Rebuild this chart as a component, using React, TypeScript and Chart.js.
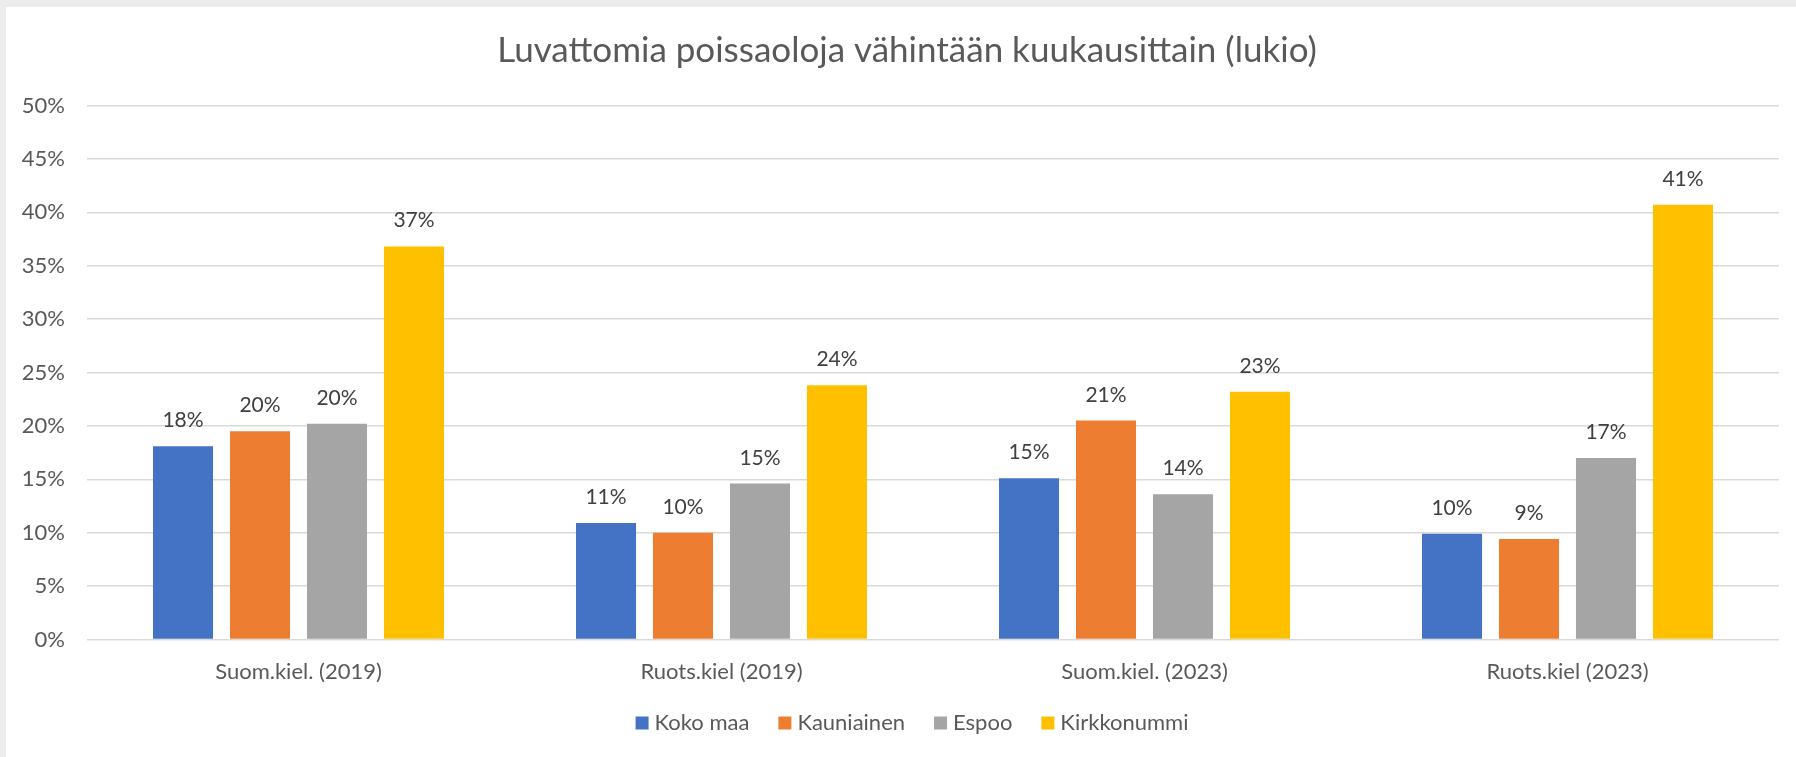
import React, { useEffect, useRef } from "react";
import { Chart, registerables } from "chart.js";

Chart.register(...registerables);

const TITLE = "Luvattomia poissaoloja vähintään kuukausittain (lukio)";
const categories = ["Suom.kiel. (2019)", "Ruots.kiel (2019)", "Suom.kiel. (2023)", "Ruots.kiel (2023)"];
const seriesNames = ["Koko maa", "Kauniainen", "Espoo", "Kirkkonummi"];
const kokoMaa = [18.1, 10.9, 15.1, 9.9];
const kauniainen = [19.5, 10.0, 20.5, 9.4];
const espoo = [20.2, 14.6, 13.6, 17.0];
const kirkkonummi = [36.8, 23.8, 23.2, 40.7];
const yMin = 0;
const yMax = 50;
const yStep = 5;
const colors = ["#4472C4", "#ED7D31", "#A5A5A5", "#FFC000"];

const FONT = "Lato, 'Noto Sans', sans-serif";

const overlay = {
  id: "overlay",
  afterDatasetsDraw(chart: any) {
    const ctx = chart.ctx as CanvasRenderingContext2D;
    ctx.save();
    // data labels
    ctx.font = `21px ${FONT}`;
    ctx.fillStyle = "#404040";
    ctx.textAlign = "center";
    ctx.textBaseline = "alphabetic";
    chart.data.datasets.forEach((ds: any, i: number) => {
      const meta = chart.getDatasetMeta(i);
      meta.data.forEach((el: any, j: number) => {
        const v = ds.data[j] as number;
        ctx.fillText(`${Math.round(v)}%`, el.x, el.y - 19);
      });
    });
    // title
    ctx.font = `35px ${FONT}`;
    ctx.fillStyle = "#595959";
    ctx.fillText(TITLE, 901, 54.7);
    // legend
    ctx.font = `22px ${FONT}`;
    ctx.textBaseline = "middle";
    const box = 13;
    const gapText = 6;
    const gapItem = 29;
    const widths = chart.data.datasets.map((d: any) => ctx.measureText(d.label).width);
    let total = 0;
    widths.forEach((w: number, i: number) => {
      total += box + gapText + w + (i < widths.length - 1 ? gapItem : 0);
    });
    let x = 906 - total / 2;
    const yc = 716;
    ctx.textAlign = "left";
    chart.data.datasets.forEach((d: any, i: number) => {
      ctx.fillStyle = d.backgroundColor;
      ctx.fillRect(x, yc - box / 2, box, box);
      x += box + gapText;
      ctx.fillStyle = "#595959";
      ctx.fillText(d.label, x, yc);
      x += widths[i] + gapItem;
    });
    ctx.restore();
  },
};

export default function App() {
  const ref = useRef<HTMLCanvasElement>(null);
  useEffect(() => {
    if (!ref.current) return;
    const series = [kokoMaa, kauniainen, espoo, kirkkonummi];
    const chart = new Chart(ref.current, {
      type: "bar",
      data: {
        labels: categories,
        datasets: series.map((d, i) => ({
          label: seriesNames[i],
          data: d,
          backgroundColor: colors[i],
          borderWidth: 0,
          categoryPercentage: 0.728,
          barPercentage: 0.78,
        })),
      },
      options: {
        responsive: false,
        animation: false,
        devicePixelRatio: 1,
        layout: { padding: { top: 98.5, right: 17, left: 0, bottom: 0 } },
        plugins: {
          legend: { display: false },
          title: { display: false },
          tooltip: { enabled: false },
        },
        scales: {
          x: {
            grid: { display: false },
            border: { display: false },
            ticks: { font: { family: FONT, size: 22 }, color: "#595959", padding: 11 },
            afterFit(s: any) {
              s.height = 117.5;
            },
          },
          y: {
            min: yMin,
            max: yMax,
            ticks: {
              stepSize: yStep,
              callback: (v: any) => `${v}%`,
              font: { family: FONT, size: 22 },
              color: "#595959",
              padding: 22,
            },
            grid: { color: "#D9D9D9", lineWidth: 1.5, drawTicks: false },
            border: { display: false },
            afterFit(s: any) {
              s.width = 81;
            },
          },
        },
      },
      plugins: [overlay],
    });
    return () => chart.destroy();
  }, []);
  return (
    <div style={{ position: "absolute", left: 0, top: 0, width: 1796, height: 757, background: "#ECECEC" }}>
      <div style={{ position: "absolute", left: 6, top: 7, width: 1790, height: 750, background: "#FFFFFF" }}>
        <canvas ref={ref} width={1790} height={750} style={{ display: "block" }} />
      </div>
    </div>
  );
}
